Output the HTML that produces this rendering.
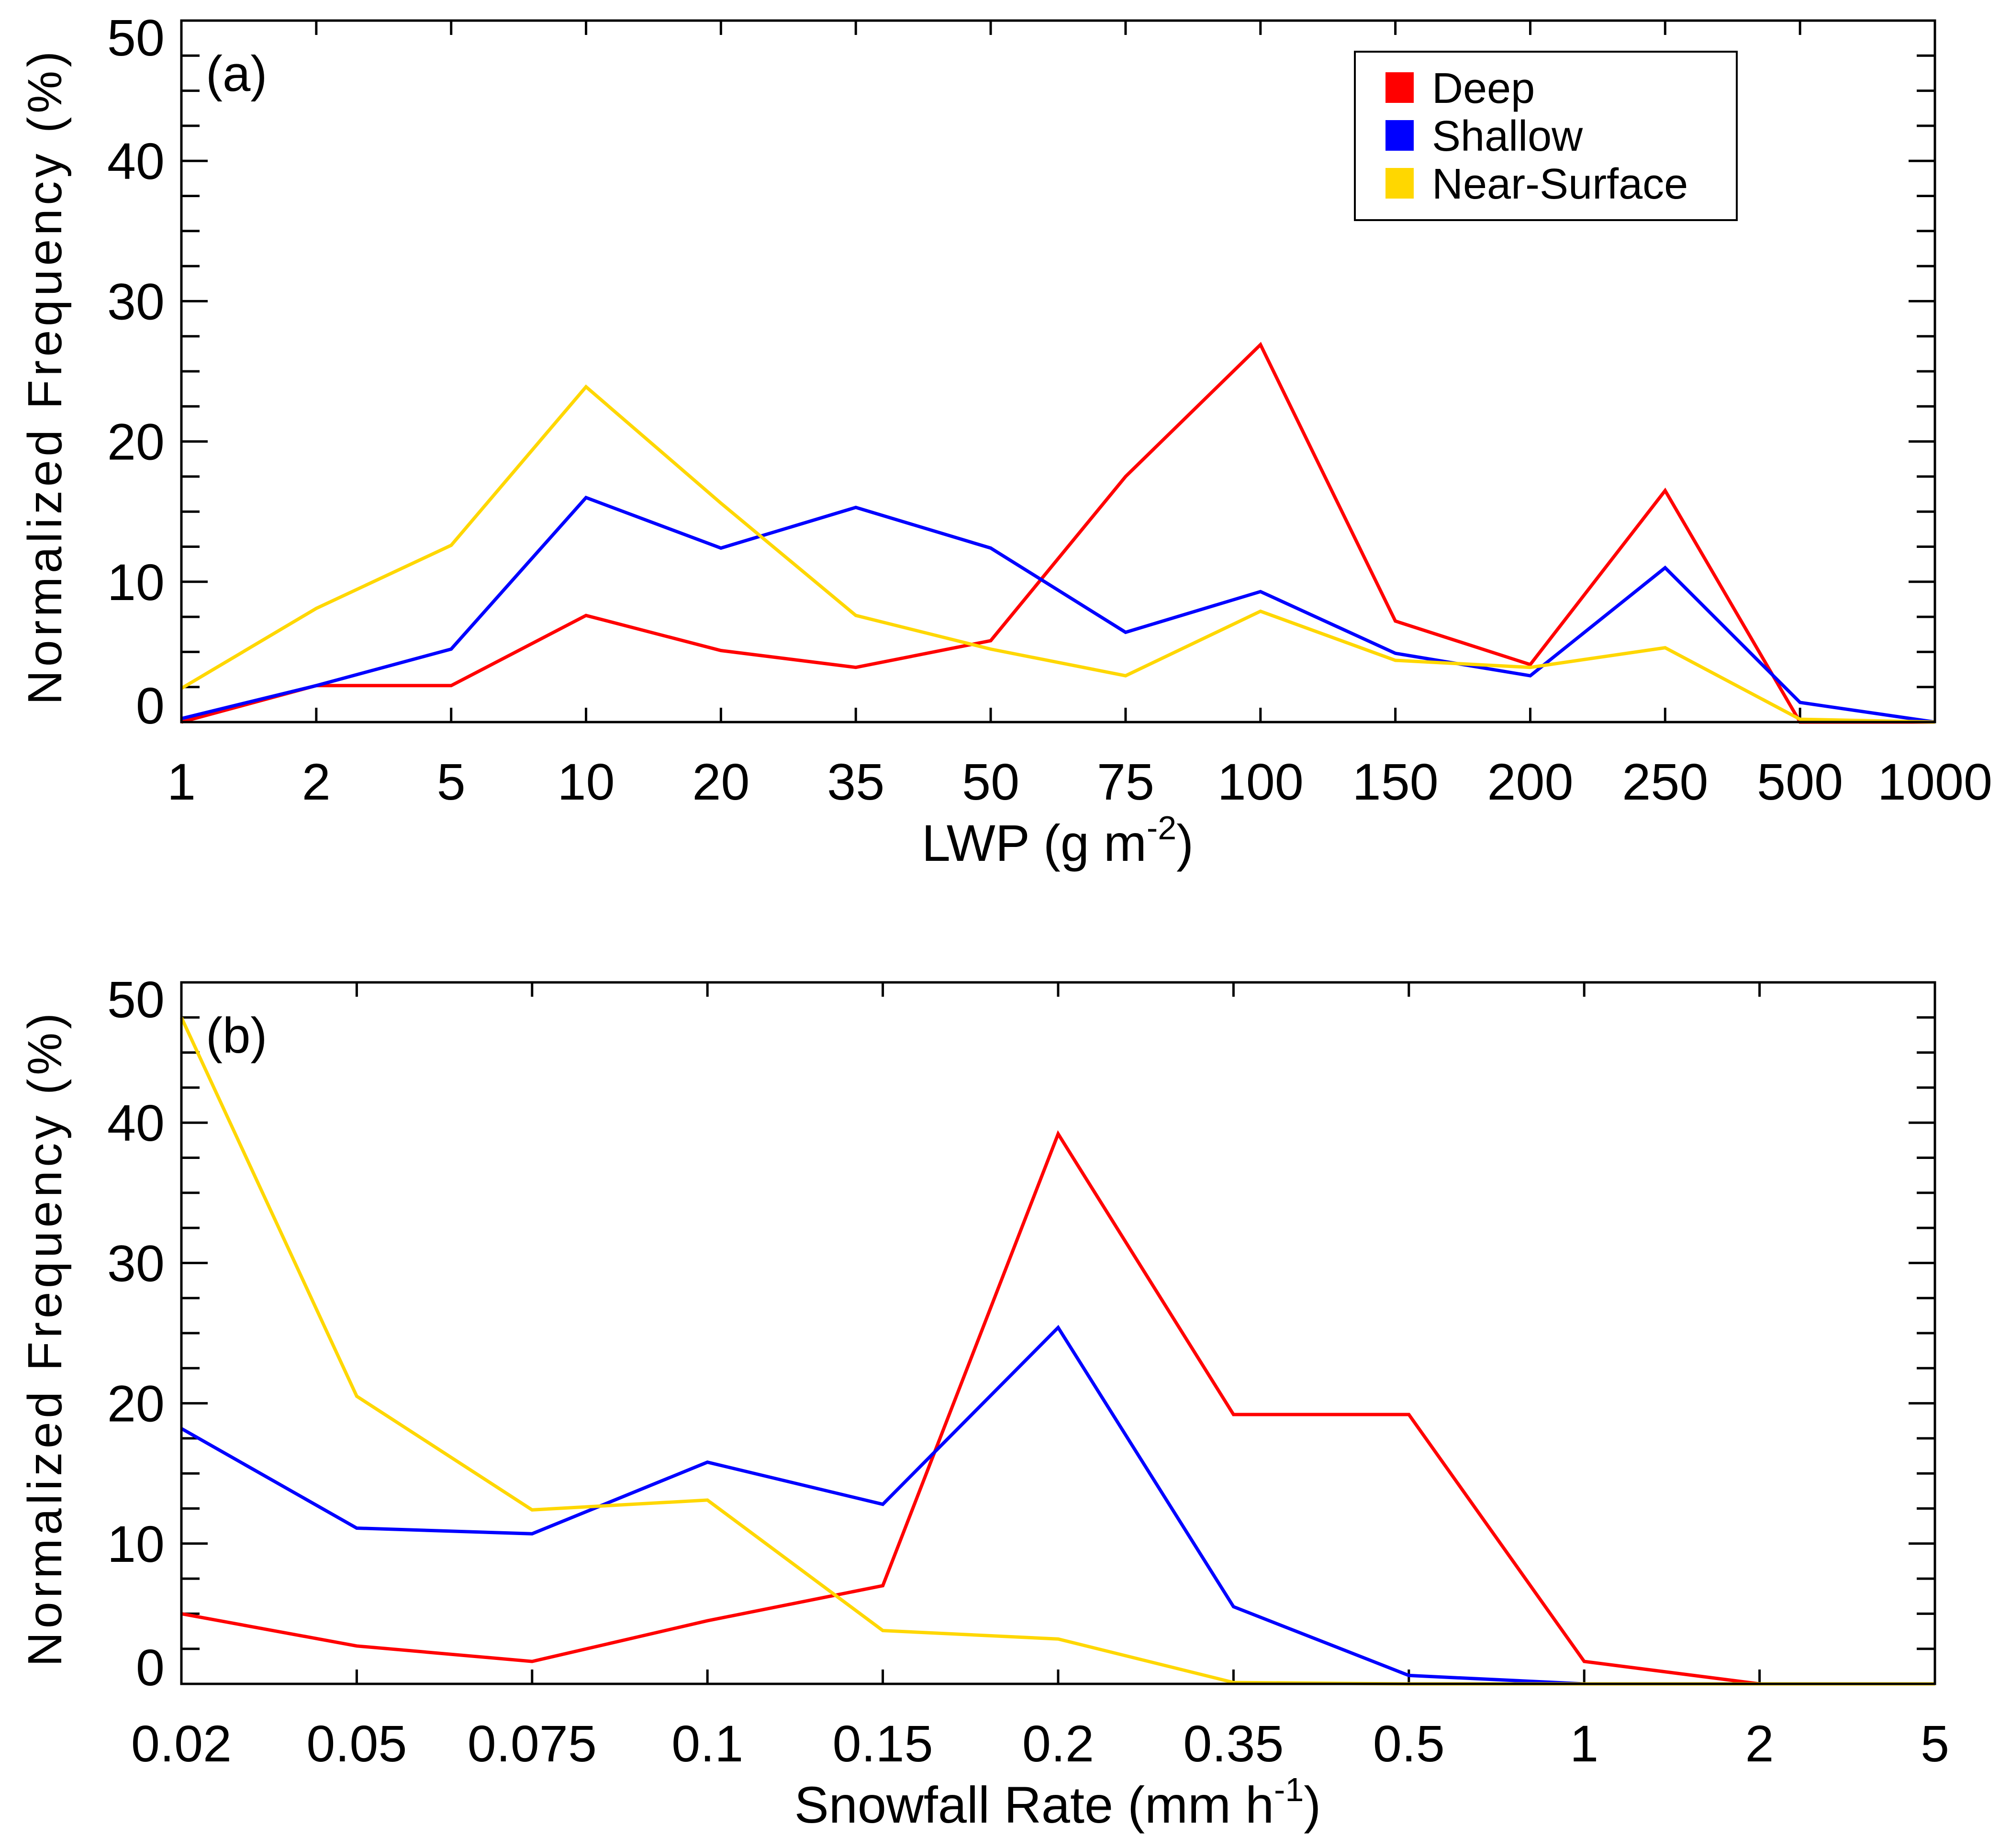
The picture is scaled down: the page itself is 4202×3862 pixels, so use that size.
<!DOCTYPE html>
<html><head><meta charset="utf-8"><style>
html,body{margin:0;padding:0;background:#fff;}
svg{display:block;font-family:"Liberation Sans",sans-serif;}
</style></head><body>
<svg id="fig" width="4202" height="3862" viewBox="0 0 4202 3862" xmlns="http://www.w3.org/2000/svg">
<rect width="4202" height="3862" fill="#fff"/>
</svg>
<script>
const lwpCategories = ["1","2","5","10","20","35","50","75","100","150","200","250","500","1000"];
const lwpDeep = [0,2.6,2.6,7.6,5.1,3.9,5.8,17.5,26.9,7.2,4.1,16.5,0,0];
const lwpShallow = [0.25,2.6,5.2,16.0,12.4,15.3,12.4,6.4,9.3,4.9,3.3,11.0,1.4,0];
const lwpNear = [2.4,8.1,12.6,23.9,15.6,7.6,5.2,3.3,7.9,4.4,3.9,5.3,0.2,0];
const snowCategories = ["0.02","0.05","0.075","0.1","0.15","0.2","0.35","0.5","1","2","5"];
const snowDeep = [5.0,2.7,1.6,4.5,7.0,39.2,19.2,19.2,1.6,0,0];
const snowShallow = [18.2,11.1,10.7,15.8,12.8,25.4,5.5,0.6,0,0,0];
const snowNear = [47.5,20.5,12.4,13.1,3.8,3.2,0.1,0,0,0,0];
const yTicks = [0,10,20,30,40,50];
const seriesNames = ["Deep","Shallow","Near-Surface"];
const seriesColors = ["#ff0000","#0000ff","#ffd700"];

const NS="http://www.w3.org/2000/svg";
const svg=document.getElementById('fig');
function mk(tag,attrs,parent){const e=document.createElementNS(NS,tag);for(const k in attrs)e.setAttribute(k,attrs[k]);(parent||svg).appendChild(e);return e;}

function panel(top,cats,series,label,xtitle,sup,pname){
  const L=379,R=4043,T=top,B=top+1466,ymax=50;
  const g=mk('g',{});
  
  
  const xs=i=>L+(R-L)*i/(cats.length-1);
  const ys=v=>B-(B-T)*v/ymax;
  for(let v=0;v<=ymax+0.01;v+=2.5){
    const major=Math.abs(v%10)<0.01;const len=major?55:38;const y=ys(v);
    const t1=mk('line',{x1:L,x2:L+len,y1:y,y2:y,stroke:'#000','stroke-width':5},g);
    
    const t2=mk('line',{x1:R,x2:R-len,y1:y,y2:y,stroke:'#000','stroke-width':5},g);
    
  }
  yTicks.forEach(v=>{
    let y=ys(v)+38;
    if(v===0)y-=35; if(v===ymax)y+=35;
    const t=mk('text',{x:344,y:y,'text-anchor':'end','font-size':108,fill:'#000'},g);
    t.textContent=v;
    
    
  });
  cats.forEach((c,i)=>{
    const x=xs(i);
    const a=mk('line',{x1:x,x2:x,y1:B,y2:B-30,stroke:'#000','stroke-width':5},g);
    
    const b=mk('line',{x1:x,x2:x,y1:T,y2:T+30,stroke:'#000','stroke-width':5},g);
    
    const t=mk('text',{x:x,y:B+162,'text-anchor':'middle','font-size':108,fill:'#000'},g);
    t.textContent=c;
    
    
  });
  series.forEach((s,k)=>{
    const pts=s.map((v,i)=>xs(i).toFixed(1)+','+ys(v).toFixed(1)).join(' ');
    const p=mk('polyline',{points:pts,fill:'none',stroke:seriesColors[k],'stroke-width':7,'stroke-linejoin':'miter'},g);
    
    
  });
  const fr=mk('rect',{x:L,y:T,width:R-L,height:B-T,fill:'none',stroke:'#000','stroke-width':5},g);
  
  const pl=mk('text',{x:430,y:T+147,'font-size':105,fill:'#000'},g);
  pl.textContent=label;
  
  
  const yt=mk('text',{x:0,y:0,'text-anchor':'middle','font-size':100,fill:'#000',textLength:1366,lengthAdjust:'spacing',transform:`translate(128,${(T+B)/2+14}) rotate(-90)`},g);
  yt.textContent='Normalized Frequency (%)';
  
  
  const xt=mk('text',{x:2210,y:B+290,'text-anchor':'middle','font-size':108,fill:'#000'},g);
  
  
  xt.appendChild(document.createTextNode(xtitle));
  const ts=mk('tspan',{dy:-45,'font-size':70},xt);ts.textContent=sup;
  const ts2=mk('tspan',{dy:45},xt);ts2.textContent=')';
}
panel(43,lwpCategories,[lwpDeep,lwpShallow,lwpNear],'(a)','LWP (g m','-2','panel-a');
panel(2053,snowCategories,[snowDeep,snowShallow,snowNear],'(b)','Snowfall Rate (mm h','-1','panel-b');

const lg=mk('g',{});


const lb=mk('rect',{x:2831,y:108,width:798,height:352,fill:'#fff',stroke:'#000','stroke-width':4},lg);


seriesNames.forEach((n,k)=>{
  const y=183+k*100;
  const sw=mk('rect',{x:2895,y:y-32,width:59,height:64,fill:seriesColors[k]},lg);
  
  
  const t=mk('text',{x:2992,y:y+32,'font-size':90,fill:'#000'},lg);
  t.textContent=n;
  
  
});
</script>
</body></html>
